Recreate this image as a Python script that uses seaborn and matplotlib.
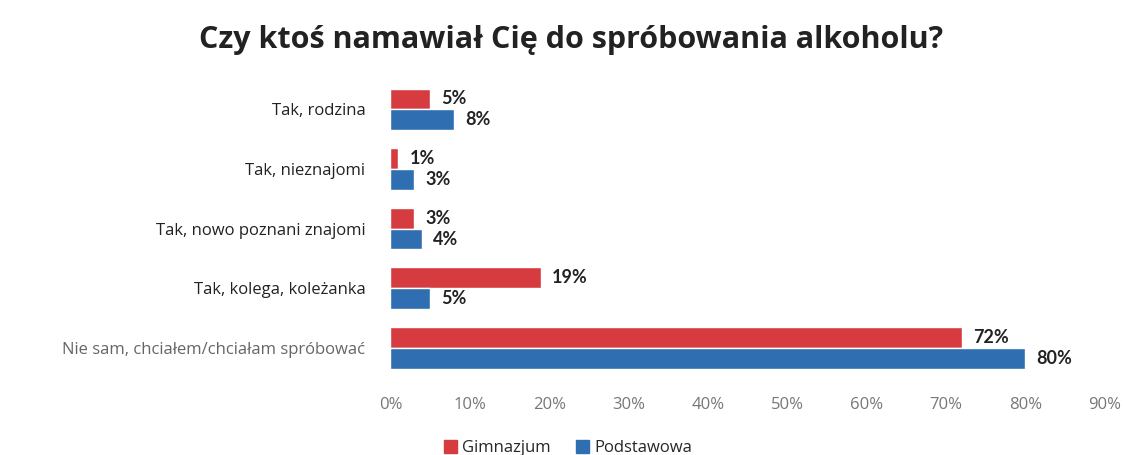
import matplotlib
matplotlib.use("Agg")
import matplotlib.pyplot as plt
import seaborn as sns
import pandas as pd

# dane z wykresu
kategorie = ["Tak, rodzina", "Tak, nieznajomi", "Tak, nowo poznani znajomi",
             "Tak, kolega, koleżanka", "Nie sam, chciałem/chciałam spróbować"]
gimnazjum = [5, 1, 3, 19, 72]
podstawowa = [8, 3, 4, 5, 80]
serie = ["Gimnazjum", "Podstawowa"]
kolory = ["#d63b40", "#2f6fb1"]

df = pd.DataFrame({
    "kat": kategorie * 2,
    "szkola": [serie[0]] * len(kategorie) + [serie[1]] * len(kategorie),
    "proc": gimnazjum + podstawowa,
})

sns.set_theme(style="white")
plt.rcParams["font.family"] = ["Open Sans", "DejaVu Sans"]

fig, ax = plt.subplots(figsize=(11.25, 4.55), dpi=100)
fig.subplots_adjust(left=0.347, right=0.982, top=0.825, bottom=0.17)

sns.barplot(data=df, y="kat", x="proc", hue="szkola", order=kategorie,
            hue_order=serie, palette=kolory, width=0.7, orient="h",
            ax=ax, legend=False, saturation=1)

for cont in ax.containers:
    ax.bar_label(cont, labels=[f"{int(v)}%" for v in cont.datavalues],
                 padding=8, fontsize=13, fontweight="bold", color="#222222",
                 family=["Lato", "DejaVu Sans"])

ax.set_xlim(0, 90)
ax.set_xticks(range(0, 91, 10))
ax.set_xticklabels([f"{t}%" for t in range(0, 91, 10)], fontsize=12, color="#777777")
ax.tick_params(axis="y", labelsize=12, colors="#222222", length=0, pad=18)
ax.tick_params(axis="x", length=0, pad=14)
ax.get_yticklabels()[-1].set_color("#666666")
ax.set_xlabel("")
ax.set_ylabel("")
sns.despine(ax=ax, left=True, bottom=True)

fig.suptitle("Czy ktoś namawiał Cię do spróbowania alkoholu?", fontsize=22,
             fontweight="bold", color="#222222", x=0.508, y=0.945)

uchwyty = [plt.Rectangle((0, 0), 1, 1, color=c) for c in kolory]
fig.legend(uchwyty, serie, loc="lower center", ncol=2, frameon=False,
           fontsize=12, handlelength=0.8, handleheight=0.8, handletextpad=0.3,
           columnspacing=1.5, bbox_to_anchor=(0.505, -0.035))

fig.savefig("out.png", dpi=100)
